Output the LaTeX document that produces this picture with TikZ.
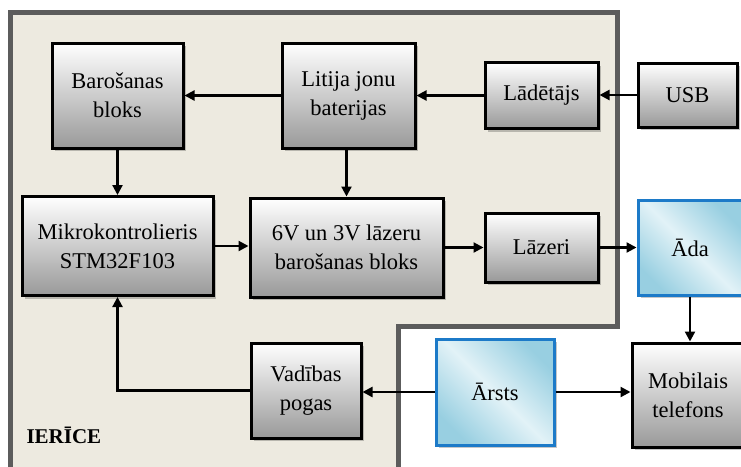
\documentclass[tikz,border=0pt]{standalone}
\usepackage{fontspec}
\setmainfont{Liberation Serif}
\usetikzlibrary{shadows,arrows.meta}

\definecolor{ierfill}{RGB}{237,234,224}
\definecolor{iergray}{RGB}{92,92,92}
\definecolor{zilaline}{RGB}{28,122,200}
\definecolor{zilagais}{RGB}{226,242,247}
\definecolor{zilatumss}{RGB}{152,207,225}

\begin{document}
\begin{tikzpicture}[x=1pt,y=-1pt,
    blok/.style={draw=black, line width=3pt, top color=white, bottom color=black!40,
        drop shadow={shadow xshift=3pt, shadow yshift=-3pt, fill=black, opacity=.22},
        align=center, inner sep=0pt, font=\fontsize{22.5}{29}\selectfont},
    zils/.style={blok, draw=zilaline, top color=zilatumss, bottom color=zilatumss,
        middle color=zilagais, shading angle=-45},
    bulta/.style={-{Triangle[length=10pt,width=10pt]}, line width=2.2pt}]
    \clip (0,0) rectangle (741,466);
    \fill[white] (0,0) rectangle (741,466);
    % ierices laukums
    \draw[fill=ierfill, draw=iergray, line width=5pt]
        (10,12) -- (617,12) -- (617,326) -- (398,326) -- (398,480) -- (10,480) -- cycle;
    \node[font=\bfseries\fontsize{21}{25}\selectfont, anchor=base west] (ierice) at (23,443) {IERĪCE};

    % bloki
    \node[blok, minimum width=131pt, minimum height=105pt] (baros) at (117.5,95.5) {Barošanas\\bloks};
    \node[blok, minimum width=133pt, minimum height=105pt] (litija) at (348.5,95.5) {Litija jonu\\baterijas};
    \node[blok, minimum width=113pt, minimum height=66pt] (ladetajs) at (541.5,95.5) {Lādētājs};
    \node[blok, minimum width=99pt, minimum height=64pt] (usb) at (687.5,95) {USB};
    \node[blok, minimum width=191pt, minimum height=99pt] (mikro) at (117.5,246) {Mikrokontrolieris\\STM32F103};
    \node[blok, minimum width=193pt, minimum height=99pt] (lazbar) at (346.5,247.5) {6V un 3V lāzeru\\barošanas bloks};
    \node[blok, minimum width=113pt, minimum height=69pt] (lazeri) at (541.5,247.5) {Lāzeri};
    \node[zils, minimum width=104pt, minimum height=95pt] (ada) at (690,247.5) {Āda};
    \node[blok, minimum width=110pt, minimum height=95pt] (vadibas) at (306,390.5) {Vadības\\pogas};
    \node[zils, minimum width=118pt, minimum height=106pt] (arsts) at (495,392) {Ārsts};
    \node[blok, minimum width=112pt, minimum height=104pt] (mobilais) at (688,395) {Mobilais\\telefons};

    % savienojumi
    \draw[bulta] (usb.west) -- (usb.west -| ladetajs.east);
    \draw[bulta] (ladetajs) -- (litija);
    \draw[bulta] (litija) -- (baros);
    \draw[bulta] (baros) -- (mikro);
    \draw[bulta] (litija.south -| lazbar.north) -- (lazbar.north);
    \draw[bulta] (mikro.east) -- (mikro.east -| lazbar.west);
    \draw[bulta] (lazbar) -- (lazeri);
    \draw[bulta] (lazeri) -- (ada);
    \draw[bulta] (ada.south) -- (ada.south |- mobilais.north);
    \draw[bulta] (arsts.east) -- (arsts.east -| mobilais.west);
    \draw[bulta] (arsts.west) -- (arsts.west -| vadibas.east);
    \draw[bulta] (vadibas.west) -| (mikro.south);
\end{tikzpicture}
\end{document}
